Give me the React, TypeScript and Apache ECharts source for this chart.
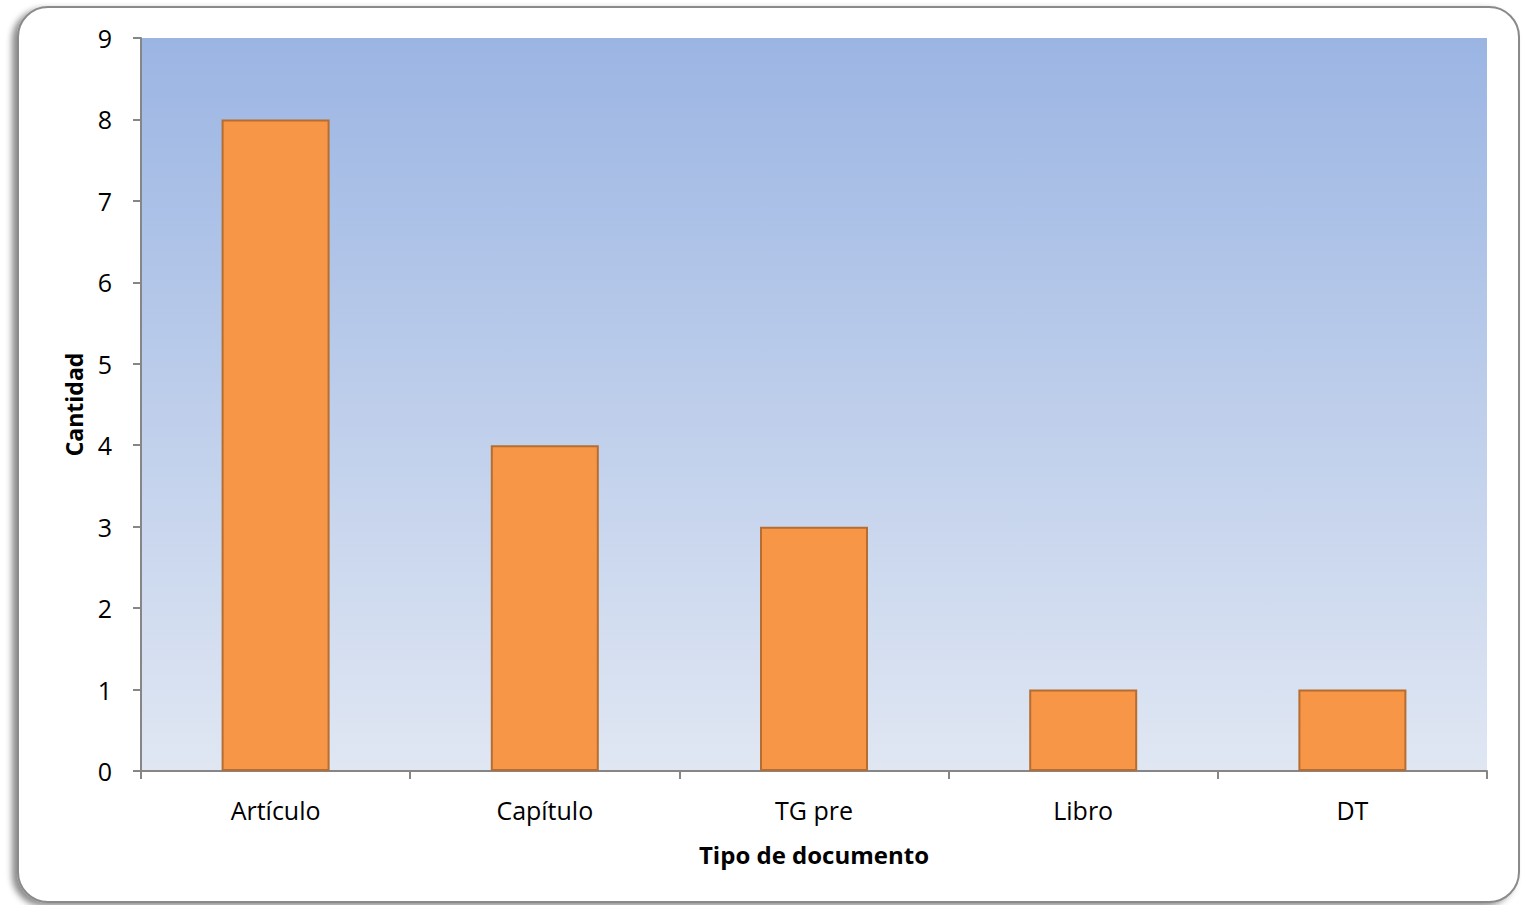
import React, { useEffect, useRef } from "react";
import * as echarts from "echarts";

const categories = ["Artículo", "Capítulo", "TG pre", "Libro", "DT"];
const values = [8, 4, 3, 1, 1];
const yTicks = [0, 1, 2, 3, 4, 5, 6, 7, 8, 9];
const xAxisTitle = "Tipo de documento";
const yAxisTitle = "Cantidad";

const FONT = "'Open Sans', sans-serif";

export default function App() {
  const ref = useRef<HTMLDivElement>(null);
  useEffect(() => {
    if (!ref.current) return;
    const chart = echarts.init(ref.current, undefined, { renderer: "svg" });
    chart.setOption({
      animation: false,
      backgroundColor: "#ffffff",
      graphic: [
        {
          type: "rect",
          z: -10,
          silent: true,
          shape: { x: 18, y: 7, width: 1501, height: 895, r: 30 },
          style: {
            fill: "#ffffff",
            stroke: "#8a8a8a",
            lineWidth: 2,
            shadowBlur: 6,
            shadowOffsetX: -5,
            shadowOffsetY: 3,
            shadowColor: "rgba(0,0,0,0.45)",
          },
        },
      ],
      grid: {
        left: 141,
        right: 1529 - 1487,
        top: 38,
        bottom: 905 - 771,
        show: true,
        borderWidth: 0,
        backgroundColor: new echarts.graphic.LinearGradient(0, 0, 0, 1, [
          { offset: 0, color: "#9BB5E3" },
          { offset: 1, color: "#E0E7F3" },
        ]),
      },
      xAxis: {
        type: "category",
        data: categories,
        name: xAxisTitle,
        nameLocation: "middle",
        nameGap: 71,
        nameTextStyle: { fontFamily: FONT, fontSize: 24, fontWeight: "bold", color: "#000" },
        axisLine: { lineStyle: { color: "#868686", width: 2 } },
        axisTick: { show: true, alignWithLabel: false, length: 8, lineStyle: { color: "#868686", width: 2 } },
        axisLabel: { fontFamily: FONT, fontSize: 25, color: "#000", margin: 26 },
      },
      yAxis: {
        type: "value",
        min: yTicks[0],
        max: yTicks[yTicks.length - 1],
        interval: 1,
        name: yAxisTitle,
        nameLocation: "middle",
        nameGap: 56,
        nameRotate: 90,
        nameTextStyle: { fontFamily: FONT, fontSize: 23, fontWeight: "bold", color: "#000" },
        axisLine: { show: true, lineStyle: { color: "#868686", width: 2 } },
        axisTick: { show: true, length: 8, lineStyle: { color: "#868686", width: 2 } },
        axisLabel: { fontFamily: FONT, fontSize: 25, color: "#000", margin: 29 },
        splitLine: { show: false },
      },
      series: [
        {
          type: "bar",
          data: values,
          barWidth: 108,
          itemStyle: { color: "#F79646", borderColor: "#B66D31", borderWidth: 2 },
        },
      ],
    });
    return () => chart.dispose();
  }, []);
  return (
    <div
      ref={ref}
      style={{ position: "absolute", left: 0, top: 0, width: 1529, height: 905 }}
    />
  );
}
